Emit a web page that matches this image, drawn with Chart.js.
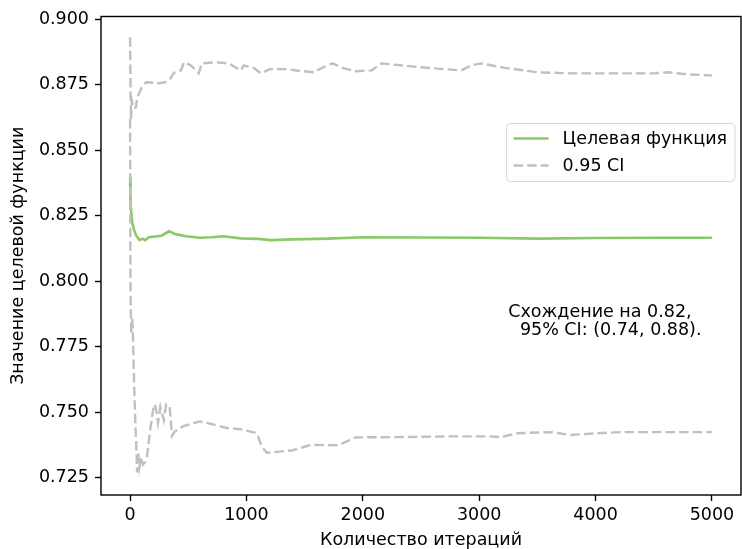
<!DOCTYPE html>
<html>
<head>
<meta charset="utf-8">
<script src="https://cdn.jsdelivr.net/npm/chart.js@4.4.1/dist/chart.umd.min.js"></script>
<style>
  html, body { margin: 0; padding: 0; background: #fff; }
  canvas { display: block; }
</style>
</head>
<body>
<canvas id="conv" width="742" height="549"></canvas>
<script>
  // values
  const xTicks = [0, 1000, 2000, 3000, 4000, 5000];
  const yTicks = [0.725, 0.75, 0.775, 0.8, 0.825, 0.85, 0.875, 0.9];

  const meanIter = [0, 2, 5, 10, 20, 35, 50, 80, 110, 130, 160, 200, 270, 335, 390, 480, 600, 700, 800, 950, 1100, 1210, 1400, 1700, 2000, 2500, 3000, 3500, 4000, 4500, 5000];
  const meanVal = [0.840, 0.8335, 0.8295, 0.8265, 0.822, 0.8195, 0.8176, 0.8158, 0.8162, 0.8157, 0.8168, 0.817, 0.8174, 0.8191, 0.818, 0.8172, 0.8166, 0.8168, 0.8172, 0.8164, 0.8162, 0.8157, 0.816, 0.8163, 0.8168, 0.8167, 0.8166, 0.8163, 0.8165, 0.8166, 0.8166];

  const upIter = [0, 4, 8, 15, 30, 50, 60, 100, 137, 250, 300, 335, 377, 437, 463, 523, 590, 617, 737, 848, 950, 977, 1063, 1123, 1200, 1346, 1430, 1576, 1690, 1740, 1825, 1937, 2074, 2160, 2500, 2845, 2930, 3016, 3222, 3505, 3788, 4080, 4508, 4620, 4790, 5000];
  const upVal = [0.8932, 0.872, 0.862, 0.869, 0.866, 0.8664, 0.870, 0.874, 0.876, 0.8756, 0.876, 0.8767, 0.8796, 0.8805, 0.8836, 0.8824, 0.8794, 0.8832, 0.8836, 0.8832, 0.8805, 0.8824, 0.8815, 0.8794, 0.881, 0.881, 0.8805, 0.8798, 0.8824, 0.8832, 0.8815, 0.8802, 0.8805, 0.8832, 0.8817, 0.8805, 0.8824, 0.8832, 0.8815, 0.8798, 0.8794, 0.8794, 0.8794, 0.8798, 0.879, 0.8786];

  const lowIter = [0, 3, 6, 10, 18, 25, 35, 45, 55, 60, 70, 80, 95, 110, 130, 145, 175, 205, 220, 240, 260, 290, 310, 340, 360, 380, 450, 520, 600, 700, 830, 950, 1090, 1130, 1175, 1400, 1550, 1791, 1937, 2280, 2794, 3076, 3188, 3333, 3616, 3788, 4019, 4216, 5000];
  const lowVal = [0.862, 0.800, 0.789, 0.780, 0.786, 0.779, 0.760, 0.746, 0.735, 0.727, 0.735, 0.729, 0.733, 0.730, 0.731, 0.733, 0.744, 0.753, 0.752, 0.746, 0.752, 0.747, 0.753, 0.752, 0.741, 0.7425, 0.7445, 0.7455, 0.7465, 0.7455, 0.744, 0.7435, 0.742, 0.737, 0.7345, 0.7355, 0.7375, 0.7374, 0.7404, 0.7405, 0.7408, 0.7408, 0.7405, 0.742, 0.7424, 0.7413, 0.742, 0.7424, 0.7424];

  const noteLines = ["Схождение на 0.82,", "95% CI: (0.74, 0.88)."];
  const noteX = [3250, 3350];
  const noteY = [0.7864, 0.7794];

  const GREEN = "#88ca68";
  const GREY = "#c0c0c0";
  const FONT = "DejaVu Sans";
  const FS = 17.5;

  function pts(xs, ys) {
    return xs.map((v, i) => ({ x: v, y: ys[i] }));
  }

  // frame, legend box and the text note
  const overlay = {
    id: "overlay",
    afterDatasetsDraw(chart) {
      const { ctx, chartArea: a, scales } = chart;
      ctx.save();
      ctx.strokeStyle = "#000";
      ctx.lineWidth = 1.4;
      ctx.setLineDash([]);
      ctx.strokeRect(a.left, a.top, a.right - a.left, a.bottom - a.top);

      ctx.font = `${FS}px "${FONT}"`;
      const items = [chart.data.datasets[0], chart.data.datasets[1]];
      const textW = Math.max(...items.map((d) => ctx.measureText(d.label).width));
      const em = FS;
      const boxW = 0.4 * em + 2 * em + 0.8 * em + textW + 0.45 * em;
      const boxR = a.right - 6;
      const boxL = boxR - boxW;
      const boxT = a.top + 107;
      const rowH = 27;
      const boxH = 58;

      ctx.beginPath();
      ctx.roundRect(boxL, boxT, boxW, boxH, 4);
      ctx.fillStyle = "rgba(255,255,255,0.8)";
      ctx.fill();
      ctx.strokeStyle = "#d6d6d6";
      ctx.lineWidth = 1;
      ctx.stroke();

      items.forEach((d, i) => {
        const cy = boxT + 15 + i * rowH;
        const hx = boxL + 0.4 * em;
        ctx.beginPath();
        ctx.strokeStyle = d.borderColor;
        ctx.lineWidth = d.borderWidth;
        ctx.setLineDash(d.borderDash || []);
        ctx.moveTo(hx, cy);
        ctx.lineTo(hx + 2 * em, cy);
        ctx.stroke();
        ctx.setLineDash([]);
        ctx.fillStyle = "#000";
        ctx.textAlign = "left";
        ctx.textBaseline = "middle";
        ctx.fillText(d.label, hx + 2.8 * em, cy + 1);
      });

      ctx.fillStyle = "#000";
      ctx.textAlign = "left";
      ctx.textBaseline = "alphabetic";
      noteLines.forEach((t, i) => {
        ctx.fillText(t, scales.x.getPixelForValue(noteX[i]), scales.y.getPixelForValue(noteY[i]));
      });
      ctx.restore();
    },
  };

  Chart.defaults.font.family = FONT;
  Chart.defaults.font.size = FS;
  Chart.defaults.color = "#000";

  new Chart(document.getElementById("conv"), {
    type: "line",
    data: {
      datasets: [
        {
          label: "Целевая функция",
          data: pts(meanIter, meanVal),
          borderColor: GREEN,
          borderWidth: 2.6,
          pointRadius: 0,
          tension: 0,
          fill: false,
          order: 2,
        },
        {
          label: "0.95 CI",
          data: pts(upIter, upVal),
          borderColor: GREY,
          borderWidth: 2.4,
          borderDash: [9.5, 4.1],
          pointRadius: 0,
          tension: 0,
          fill: false,
          order: 1,
        },
        {
          label: "0.95 CI",
          data: pts(lowIter, lowVal),
          borderColor: GREY,
          borderWidth: 2.4,
          borderDash: [9.5, 4.1],
          pointRadius: 0,
          tension: 0,
          fill: false,
          order: 1,
        },
      ],
    },
    options: {
      responsive: false,
      animation: false,
      events: [],
      layout: { padding: { top: 16, right: 1, left: 0, bottom: 0 } },
      plugins: { legend: { display: false }, tooltip: { enabled: false } },
      scales: {
        x: {
          type: "linear",
          min: -250,
          max: 5250,
          afterBuildTicks: (s) => { s.ticks = xTicks.map((v) => ({ value: v })); },
          afterFit: (s) => { s.height = 54; },
          border: { display: false },
          grid: { drawOnChartArea: false, tickLength: 6, tickWidth: 1.4, tickColor: "#000" },
          ticks: { padding: 4, autoSkip: false, maxRotation: 0, callback: (v) => String(v) },
          title: { display: true, text: "Количество итераций", padding: { top: 0, bottom: -2 } },
        },
        y: {
          type: "linear",
          min: 0.7184,
          max: 0.9011,
          afterBuildTicks: (s) => { s.ticks = yTicks.map((v) => ({ value: v })); },
          afterFit: (s) => { s.width = 101; },
          border: { display: false },
          grid: { drawOnChartArea: false, tickLength: 6, tickWidth: 1.4, tickColor: "#000" },
          ticks: { padding: 6, autoSkip: false, callback: (v) => Number(v).toFixed(3) },
          title: { display: true, text: "Значение целевой функции", padding: { top: 8, bottom: 0 } },
        },
      },
    },
    plugins: [overlay],
  });
</script>
</body>
</html>
